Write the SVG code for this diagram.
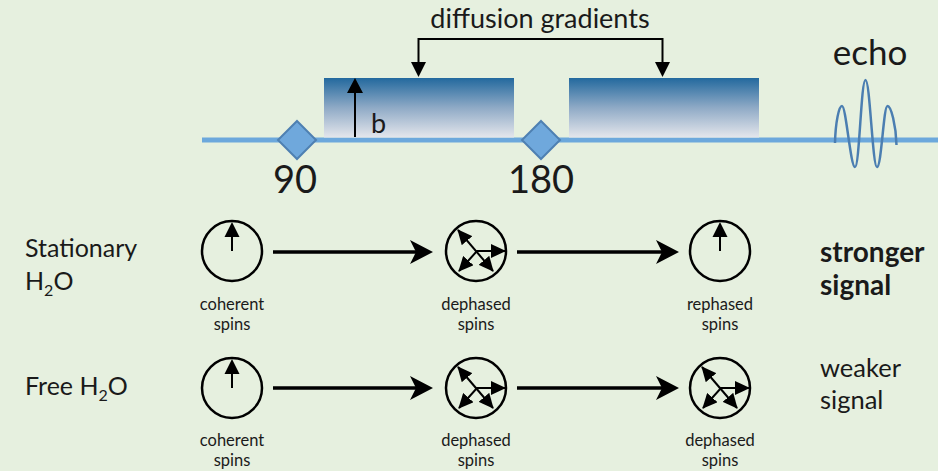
<svg xmlns="http://www.w3.org/2000/svg" xmlns:xlink="http://www.w3.org/1999/xlink" width="938" height="471" viewBox="0 0 938 471">
<style>
text{font-family:Lato,"Open Sans","DejaVu Sans",sans-serif;fill:#1a1a1a}
.lbl{font-size:25px}
.sm{font-size:16.5px;text-anchor:middle}
.big{font-size:38px;text-anchor:middle}
.ring{fill:none;stroke:#000;stroke-width:2.5}
.thin{fill:none;stroke:#000;stroke-width:2}
.flow{fill:none;stroke:#000;stroke-width:3.5}
</style>
<defs>
<linearGradient id="grad" x1="0" y1="0" x2="0" y2="1">
<stop offset="0" stop-color="#23699E"/>
<stop offset="0.5" stop-color="#8FAAC6"/>
<stop offset="1" stop-color="#E4E6EC"/>
</linearGradient>
<marker id="ah" viewBox="0 0 15 14" refX="14" refY="7" markerWidth="15" markerHeight="14" orient="auto-start-reverse" markerUnits="userSpaceOnUse"><path d="M0,0 L15,7 L0,14 z" fill="#000"/></marker>
<marker id="barb" viewBox="0 0 23 24" refX="6" refY="12" markerWidth="23" markerHeight="24" orient="auto" markerUnits="userSpaceOnUse"><path d="M0,0 L23,12 L0,24 L6,12 z" fill="#000"/></marker>
<symbol id="coh" overflow="visible">
<circle cx="0" cy="0" r="30" class="ring"/>
<line x1="0" y1="0" x2="0" y2="-15" stroke="#000" stroke-width="2"/>
<path d="M0,-29 L-7.5,-14 L7.5,-14 z" fill="#000"/>
</symbol>
<symbol id="deph" overflow="visible">
<circle cx="0" cy="0" r="30" class="ring"/>
<line x1="-18" y1="-21" x2="17" y2="20" class="thin" marker-start="url(#ah)" marker-end="url(#ah)"/>
<polyline points="-17,20 1,0 29,0" class="thin" marker-start="url(#ah)" marker-end="url(#ah)"/>
</symbol>
</defs>
<rect width="938" height="471" fill="#E6F0DF"/>

<g id="timeline">
<line x1="202" y1="140" x2="938" y2="140" stroke="#6CA8DC" stroke-width="5"/>
</g>
<g id="gradient1">
<rect x="324" y="78" width="190" height="59.5" fill="url(#grad)"/>
<line x1="355" y1="137" x2="355" y2="90" stroke="#000" stroke-width="2"/>
<path d="M355,78 L347,93 L363,93 z" fill="#000"/>
<text x="371" y="133" font-size="27">b</text>
</g>
<g id="gradient2">
<rect x="569" y="78" width="190" height="59.5" fill="url(#grad)"/>
</g>
<g id="pulse90">
<polygon points="297,121 316,140 297,159 278,140" fill="#6FA8DC" stroke="#4E80B2" stroke-width="2"/>
<text x="295" y="193" class="big">90</text>
</g>
<g id="pulse180">
<polygon points="541,121 560,140 541,159 522,140" fill="#6FA8DC" stroke="#4E80B2" stroke-width="2"/>
<text x="541" y="193" class="big">180</text>
</g>
<g id="echo">
<path d="M835,143 C835.5,122 839,106 842,106 C846,106 850.5,167 855,167 C859.5,167 861,80 865.5,80 C870,80 872.5,167 877,167 C881.5,167 883.5,106 887.5,106 C891,106 896,125 896.5,145" fill="none" stroke="#4B7EB1" stroke-width="2.5"/>
<text x="870" y="65" font-size="35" text-anchor="middle">echo</text>
</g>
<g id="diffusion-label">
<text x="540" y="28" font-size="27" text-anchor="middle">diffusion gradients</text>
</g>

<g id="row1-label"><text x="25" y="257" class="lbl">Stationary</text><text x="25" y="290" class="lbl">H<tspan font-size="16" dy="6">2</tspan><tspan dy="-6">O</tspan></text></g>
<g id="row2-label"><text x="25" y="395" class="lbl">Free H<tspan font-size="16" dy="6">2</tspan><tspan dy="-6">O</tspan></text></g>

<g id="r1-coherent"><use xlink:href="#coh" href="#coh" x="232" y="251"/><text x="232" y="310" class="sm">coherent</text><text x="232" y="330" class="sm">spins</text></g>
<g id="r1-dephased"><use xlink:href="#deph" href="#deph" x="476" y="251"/><text x="476" y="310" class="sm">dephased</text><text x="476" y="330" class="sm">spins</text></g>
<g id="r1-rephased"><use xlink:href="#coh" href="#coh" x="720" y="251"/><text x="720" y="310" class="sm">rephased</text><text x="720" y="330" class="sm">spins</text></g>
<g id="r1-result"><text x="820" y="262" font-size="28" font-weight="bold">stronger</text><text x="820" y="295" font-size="28" font-weight="bold">signal</text></g>

<g id="r2-coherent"><use xlink:href="#coh" href="#coh" x="232" y="388"/><text x="232" y="446" class="sm">coherent</text><text x="232" y="466" class="sm">spins</text></g>
<g id="r2-dephased1"><use xlink:href="#deph" href="#deph" x="476" y="388"/><text x="476" y="446" class="sm">dephased</text><text x="476" y="466" class="sm">spins</text></g>
<g id="r2-dephased2"><use xlink:href="#deph" href="#deph" x="720" y="388"/><text x="720" y="446" class="sm">dephased</text><text x="720" y="466" class="sm">spins</text></g>
<g id="r2-result"><text x="820" y="377" font-size="25.5">weaker</text><text x="820" y="409" font-size="25.5">signal</text></g>

<g id="connectors">
<path d="M418.5,62 V39 H662.5 V62" fill="none" stroke="#000" stroke-width="2"/>
<path d="M418.5,77 L411,62 L426,62 z" fill="#000"/>
<path d="M662.5,77 L655,62 L670,62 z" fill="#000"/>
<line x1="273" y1="252" x2="416" y2="252" class="flow" marker-end="url(#barb)"/>
<line x1="517" y1="252" x2="662" y2="252" class="flow" marker-end="url(#barb)"/>
<line x1="273" y1="388" x2="416" y2="388" class="flow" marker-end="url(#barb)"/>
<line x1="517" y1="388" x2="662" y2="388" class="flow" marker-end="url(#barb)"/>
</g>
</svg>
